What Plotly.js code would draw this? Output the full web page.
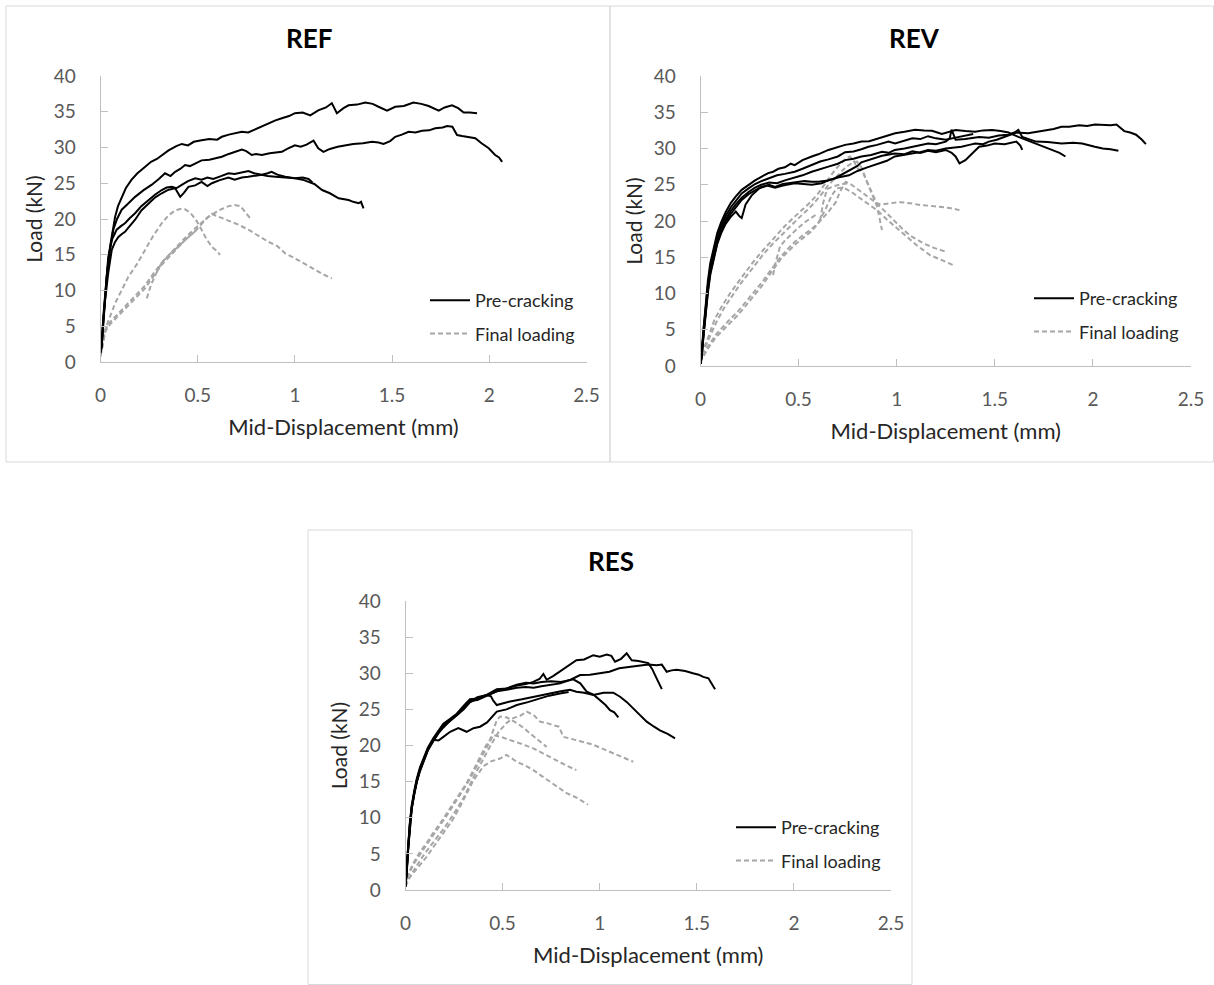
<!DOCTYPE html>
<html>
<head>
<meta charset="utf-8">
<script src="https://cdn.plot.ly/plotly-3.0.1.min.js"></script>
<style>html,body{margin:0;padding:0;background:#fff;}#chart{width:1214px;height:985px;}</style>
</head>
<body>
<div id="chart"></div>
<script>
// ---------- Panel titles, axis labels, legend labels ----------
const panelTitles = ["REF", "REV", "RES"];
const xTitle = "Mid-Displacement (mm)";
const yTitle = "Load (kN)";
const seriesNames = ["Pre-cracking", "Final loading"];

// ---------- REF : pre-cracking ----------
const refP1x = [0,0.006,0.015,0.023,0.035,0.049,0.062,0.075,0.09,0.109,0.13,0.16,0.19,0.23,0.26,0.29,0.315,0.35,0.39,0.418,0.45,0.48,0.52,0.56,0.6,0.624,0.66,0.7,0.727,0.76,0.8,0.83,0.87,0.9,0.933,0.97,1.0,1.04,1.079,1.12,1.16,1.19,1.216,1.25,1.276,1.32,1.362,1.4,1.43,1.474,1.516,1.56,1.61,1.65,1.688,1.74,1.77,1.808,1.84,1.868,1.9,1.937];
const refP1y = [1.5,2.5,6.0,9.1,12.8,16.1,18.5,20.3,21.8,23.1,24.3,25.5,26.4,27.3,28.0,28.4,28.95,29.6,30.2,30.5,30.3,30.8,31.0,31.2,31.1,31.5,31.8,32.0,32.2,32.1,32.6,32.9,33.4,33.8,34.1,34.4,34.8,34.9,34.5,35.2,35.6,36.2,34.8,35.5,35.9,36.0,36.3,36.1,35.7,35.15,35.7,35.8,36.3,36.1,35.8,35.15,35.6,35.9,35.5,34.9,34.9,34.8];
const refP2x = [0,0.006,0.015,0.032,0.05,0.066,0.085,0.109,0.14,0.178,0.22,0.264,0.3,0.332,0.36,0.384,0.41,0.435,0.46,0.487,0.52,0.56,0.6,0.624,0.66,0.7,0.727,0.75,0.778,0.8,0.83,0.87,0.933,0.96,1.0,1.03,1.06,1.096,1.12,1.147,1.18,1.22,1.26,1.3,1.35,1.397,1.43,1.456,1.49,1.516,1.55,1.585,1.62,1.654,1.69,1.722,1.76,1.783,1.81,1.834,1.86,1.9,1.928,1.96,1.997,2.03,2.05,2.066];
const refP2y = [1.5,2.2,5.5,11.9,16.0,18.5,20.0,21.3,22.1,23.1,24.0,24.8,25.6,26.4,26.0,26.6,27.0,27.55,27.4,27.8,28.2,28.3,28.5,28.7,29.1,29.4,29.7,29.5,28.95,29.1,28.95,29.2,29.4,29.8,30.3,30.1,30.4,30.95,29.9,29.4,29.8,30.1,30.35,30.5,30.6,30.8,30.7,30.5,30.9,31.5,31.8,32.2,32.1,32.35,32.4,32.7,32.8,33.0,32.9,31.75,31.6,31.4,31.3,30.6,29.9,28.95,28.6,28.0];
const refP3x = [0,0.006,0.015,0.028,0.04,0.06,0.083,0.105,0.126,0.15,0.178,0.21,0.246,0.28,0.315,0.34,0.367,0.39,0.42,0.45,0.487,0.52,0.55,0.58,0.62,0.658,0.69,0.72,0.761,0.79,0.82,0.86,0.9,0.95,1.0,1.04,1.07,1.09];
const refP3y = [1.5,2.5,6.5,11.0,14.7,17.2,18.5,19.0,19.4,20.1,20.8,21.8,22.65,23.4,24.05,24.4,24.5,24.3,24.8,25.3,25.7,25.5,25.8,25.6,26.0,26.4,26.3,26.5,26.7,26.4,26.2,26.0,25.9,25.8,25.7,25.8,25.6,25.1];
const refP4x = [0,0.006,0.012,0.023,0.04,0.058,0.075,0.092,0.11,0.126,0.15,0.178,0.21,0.246,0.28,0.315,0.35,0.384,0.41,0.43,0.452,0.487,0.52,0.55,0.573,0.61,0.658,0.69,0.727,0.76,0.79,0.83,0.86,0.88,0.91,0.95,1.0,1.04,1.07,1.1,1.14,1.18,1.225,1.25,1.276,1.3,1.328,1.34,1.353];
const refP4y = [1.2,2.0,5.0,8.5,12.5,15.7,16.8,17.5,17.9,18.2,19.0,19.9,21.2,22.2,23.0,23.6,24.1,24.3,23.1,23.7,24.5,24.7,25.2,24.6,25.0,25.4,25.8,25.5,25.8,25.9,26.0,26.2,26.4,26.6,26.2,25.9,25.7,25.5,25.2,24.9,24.05,23.6,22.9,22.8,22.65,22.4,22.2,22.4,21.5];

// ---------- REF : final loading ----------
const refF1x = [0,0.006,0.03,0.075,0.11,0.143,0.19,0.229,0.27,0.315,0.35,0.384,0.41,0.435,0.455,0.47,0.495,0.52,0.545,0.573,0.595,0.615];
const refF1y = [0.8,1.7,5.0,8.2,10.2,11.9,13.8,15.7,17.6,19.4,20.5,21.2,21.4,21.35,21.0,20.6,19.7,18.5,17.2,16.1,15.6,15.0];
const refF2x = [0,0.01,0.023,0.05,0.075,0.11,0.143,0.19,0.229,0.27,0.315,0.36,0.4,0.44,0.487,0.52,0.555,0.59,0.624,0.66,0.69,0.72,0.745,0.77];
const refF2y = [1.0,2.8,4.5,5.6,6.3,7.3,8.2,9.5,10.7,12.3,13.9,15.2,16.4,17.5,18.7,19.5,20.3,20.9,21.4,21.8,21.95,21.8,21.0,20.1];
const refF3x = [0,0.01,0.023,0.05,0.075,0.11,0.143,0.19,0.229,0.27,0.315,0.36,0.4,0.44,0.487,0.52,0.55,0.573,0.61,0.658,0.71,0.761,0.81,0.864,0.91,0.95,1.0,1.044,1.1,1.15,1.19];
const refF3y = [0.8,2.5,4.2,5.3,6.0,7.0,7.9,9.1,10.3,11.9,13.6,14.9,16.0,17.2,18.3,19.3,20.2,20.7,20.3,19.85,19.2,18.5,17.7,16.8,16.2,15.2,14.5,13.8,12.9,12.2,11.7];
const refF4x = [0.238,0.26,0.29,0.315,0.35,0.4,0.45,0.5];
const refF4y = [8.9,10.8,12.6,13.9,14.9,16.2,17.4,18.6];

// ---------- REV : pre-cracking ----------
const revP1x = [0,0.006,0.015,0.025,0.038,0.05,0.068,0.085,0.105,0.128,0.155,0.18,0.21,0.245,0.28,0.31,0.35,0.38,0.42,0.48,0.53,0.567,0.6,0.65,0.7,0.757,0.8,0.85,0.9,0.95,0.99,1.04,1.08,1.12,1.16,1.2,1.25,1.29,1.33,1.37,1.4,1.44,1.47,1.51,1.55,1.58,1.61,1.67,1.72,1.76,1.8,1.84,1.88,1.93,1.97,2.01,2.05,2.09,2.12,2.16,2.19,2.22,2.25,2.27];
const revP1y = [0.3,1.4,4.2,7.3,10.5,12.9,15.2,17.0,18.6,19.9,21.0,21.9,22.9,23.7,24.3,24.7,25.0,24.7,25.1,25.3,25.5,25.4,25.4,25.6,26.0,26.3,26.9,27.4,27.8,28.3,28.9,29.1,29.3,29.5,29.8,29.7,30.0,30.1,30.25,30.5,30.7,30.6,30.95,31.2,31.6,31.8,32.2,32.1,32.3,32.55,32.7,33.0,33.0,33.2,33.1,33.3,33.2,33.2,33.3,32.4,32.2,31.9,31.2,30.6];
const revP2x = [0,0.006,0.015,0.025,0.038,0.05,0.068,0.085,0.105,0.128,0.155,0.18,0.21,0.245,0.278,0.31,0.35,0.39,0.43,0.48,0.52,0.567,0.61,0.652,0.7,0.737,0.78,0.82,0.87,0.925,0.96,0.99,1.04,1.08,1.12,1.16,1.2,1.25,1.27,1.28,1.3,1.35,1.42,1.47,1.52,1.57,1.6,1.62,1.64,1.71,1.77,1.84,1.9,1.945,2.01,2.05,2.09,2.13];
const revP2y = [0.3,1.5,4.4,7.6,10.9,13.2,15.5,17.3,18.8,20.2,21.4,22.3,23.2,24.0,24.6,25.0,25.3,25.2,25.6,26.0,26.3,26.8,27.1,27.5,27.9,28.4,28.6,28.9,29.1,29.55,29.4,29.8,30.0,30.25,30.4,30.7,30.6,30.95,31.4,32.6,31.2,31.3,31.6,31.5,31.8,31.9,32.2,32.55,31.6,30.95,30.9,30.7,30.8,30.7,30.25,30.0,29.9,29.7];
const revP3x = [0,0.006,0.015,0.025,0.038,0.05,0.068,0.085,0.105,0.128,0.155,0.18,0.21,0.245,0.278,0.31,0.345,0.37,0.397,0.43,0.46,0.48,0.52,0.567,0.6,0.652,0.69,0.737,0.78,0.82,0.86,0.907,0.95,0.992,1.04,1.094,1.14,1.18,1.23,1.27,1.3,1.35,1.4,1.44,1.486,1.53,1.57,1.62,1.66,1.707,1.75,1.79,1.83,1.86];
const revP3y = [0.3,1.8,5.0,8.5,11.8,14.2,16.5,18.3,19.8,21.2,22.5,23.4,24.3,25.0,25.6,26.1,26.6,26.8,27.2,27.4,27.9,27.7,28.4,28.9,29.2,29.8,30.1,30.5,30.7,30.95,31.0,31.4,31.8,32.1,32.3,32.6,32.5,32.45,32.0,32.3,32.55,32.4,32.3,32.5,32.55,32.4,32.2,31.6,31.2,30.7,30.3,29.8,29.4,28.9];
const revP4x = [0,0.006,0.015,0.025,0.038,0.05,0.068,0.085,0.105,0.128,0.155,0.18,0.2,0.21,0.23,0.26,0.3,0.34,0.38,0.42,0.48,0.53,0.567,0.618,0.65,0.686,0.72,0.757,0.8,0.82,0.87,0.925,0.99,1.04,1.08,1.12,1.16,1.2,1.25,1.28,1.3,1.32,1.35,1.38,1.42,1.46,1.5,1.55,1.61,1.63,1.64];
const revP4y = [0.3,1.3,4.0,7.0,10.2,12.6,14.9,16.8,18.3,19.6,20.6,21.3,20.6,20.4,22.3,23.5,24.5,24.9,24.6,24.9,25.2,25.1,25.0,25.2,25.6,25.9,26.4,27.0,27.6,28.1,28.5,29.0,29.3,29.2,29.6,29.4,29.7,29.5,29.8,29.4,28.9,27.95,28.4,29.2,30.25,30.4,30.7,30.6,30.95,30.4,29.8];
const revP5x = [0,0.006,0.015,0.025,0.038,0.05,0.068,0.085,0.105,0.128,0.155,0.18,0.21,0.245,0.278,0.31,0.35,0.39,0.43,0.48,0.52,0.567,0.61,0.652,0.7,0.737,0.78,0.82,0.856,0.9,0.958,0.992,1.04,1.08,1.12,1.16,1.2,1.25,1.3,1.35,1.39];
const revP5y = [0.3,1.6,4.7,8.0,11.3,13.7,16.0,17.9,19.3,20.7,21.9,22.8,23.8,24.5,25.1,25.5,25.9,26.3,26.5,26.8,27.2,27.7,28.2,28.5,28.9,29.5,29.6,29.9,30.25,30.5,30.95,30.7,31.1,31.4,31.3,31.7,31.4,31.2,31.5,31.8,32.0];

// ---------- REV : final loading ----------
const revF1x = [0,0.01,0.04,0.07,0.108,0.15,0.19,0.227,0.27,0.31,0.346,0.39,0.43,0.48,0.52,0.56,0.6,0.63,0.66,0.69,0.72,0.74,0.762,0.78,0.8,0.83,0.865,0.9,0.925];
const revF1y = [0.5,2.0,4.0,6.3,8.2,10.0,11.5,12.9,14.4,15.7,16.8,18.1,19.3,20.6,21.6,22.6,23.8,25.0,26.1,27.2,28.1,28.6,28.9,28.3,27.3,26.6,24.3,22.0,18.75];
const revF2x = [0,0.01,0.04,0.08,0.12,0.16,0.2,0.24,0.28,0.32,0.37,0.42,0.46,0.5,0.54,0.58,0.62,0.65,0.69,0.72,0.75,0.78,0.797,0.82,0.84,0.86,0.88,0.9,0.93,0.967,1.02,1.07,1.12,1.17,1.22,1.27,1.32];
const revF2y = [0.5,1.7,3.6,6.0,8.0,9.6,11.2,12.6,14.0,15.4,16.9,18.3,19.4,20.4,21.4,22.5,23.8,24.9,26.0,26.9,27.6,28.1,28.2,27.4,26.0,24.7,23.5,22.4,22.3,22.45,22.6,22.45,22.2,22.1,22.0,21.8,21.5];
const revF3x = [0,0.01,0.04,0.08,0.142,0.19,0.227,0.27,0.312,0.36,0.41,0.45,0.48,0.52,0.567,0.61,0.65,0.69,0.71,0.74,0.77,0.81,0.85,0.89,0.93,0.967,1.0,1.035,1.08,1.137,1.19,1.245];
const revF3y = [0.4,1.3,2.8,4.4,6.2,7.5,8.7,10.1,11.5,13.3,15.1,16.3,17.1,18.0,18.9,20.0,21.2,22.6,24.0,25.4,25.0,24.2,23.4,22.6,21.6,20.6,19.7,18.75,17.8,16.9,16.3,15.8];
const revF4x = [0,0.01,0.04,0.08,0.142,0.19,0.227,0.27,0.312,0.36,0.41,0.45,0.48,0.52,0.567,0.6,0.64,0.67,0.695,0.73,0.77,0.81,0.85,0.9,0.95,1.0,1.05,1.1,1.17,1.23,1.29];
const revF4y = [0.4,1.1,2.5,4.0,5.7,7.0,8.2,9.6,11.0,12.9,14.8,15.9,16.7,17.6,18.6,19.7,21.8,23.6,24.5,24.6,24.0,23.2,22.4,21.5,20.2,19.0,17.8,16.7,15.3,14.6,13.9];
const revF5x = [0.37,0.385,0.405,0.43,0.48,0.53,0.59];
const revF5y = [12.55,14.5,16.45,17.3,18.6,19.8,20.9];
const revF6x = [0.61,0.625,0.645,0.68,0.72,0.76];
const revF6y = [20.1,22.5,24.4,24.8,25.1,25.2];

// ---------- RES : pre-cracking ----------
const resP1x = [0,0.006,0.014,0.022,0.032,0.045,0.058,0.075,0.092,0.115,0.143,0.17,0.195,0.23,0.264,0.3,0.332,0.37,0.418,0.47,0.52,0.573,0.62,0.658,0.69,0.71,0.727,0.76,0.8,0.83,0.88,0.92,0.967,1.0,1.036,1.06,1.079,1.11,1.139,1.165,1.2,1.25,1.27,1.285,1.3,1.32];
const resP1y = [0.5,2.5,6.2,9.2,11.7,13.7,15.4,17.0,18.2,19.7,21.0,22.1,23.0,23.7,24.4,25.5,26.4,26.5,27.0,27.8,27.9,28.3,28.5,28.8,29.2,29.9,29.1,29.6,30.3,30.9,31.8,31.9,32.5,32.3,32.6,32.4,31.6,32.0,32.75,31.8,31.7,31.4,30.6,29.75,28.9,27.8];
const resP2x = [0,0.006,0.014,0.022,0.032,0.045,0.058,0.075,0.092,0.115,0.143,0.17,0.195,0.23,0.264,0.3,0.332,0.37,0.418,0.47,0.52,0.573,0.62,0.66,0.7,0.74,0.796,0.85,0.899,0.95,1.0,1.05,1.1,1.15,1.21,1.25,1.293,1.32,1.345,1.37,1.397,1.44,1.48,1.51,1.533,1.56,1.594];
const resP2y = [0.5,2.3,5.8,8.8,11.3,13.3,15.0,16.6,17.9,19.4,20.7,21.8,22.6,23.4,24.1,25.0,26.0,26.4,27.0,27.5,27.7,28.0,28.1,28.0,28.2,28.4,28.6,29.1,29.75,29.8,30.0,30.2,30.7,30.9,31.1,31.2,31.1,31.2,30.2,30.4,30.5,30.3,30.0,29.8,29.5,29.3,27.8];
const resP3x = [0,0.006,0.014,0.022,0.032,0.045,0.058,0.075,0.092,0.115,0.143,0.17,0.195,0.23,0.264,0.3,0.332,0.37,0.418,0.45,0.47,0.52,0.573,0.62,0.66,0.7,0.75,0.8,0.83,0.864,0.9,0.933,0.97,1.0,1.03,1.053,1.075,1.096];
const resP3y = [0.5,2.4,6.0,9.0,11.5,13.5,15.2,16.8,18.0,19.5,20.8,21.9,22.8,23.6,24.3,25.3,26.2,26.3,26.9,27.2,27.5,27.9,28.4,28.7,28.6,28.8,28.9,28.8,29.0,29.15,28.6,27.45,27.0,26.3,25.6,24.9,24.6,23.9];
const resP4x = [0,0.006,0.014,0.022,0.032,0.045,0.058,0.075,0.092,0.115,0.143,0.17,0.195,0.23,0.264,0.3,0.332,0.37,0.418,0.44,0.452,0.47,0.5,0.538,0.6,0.658,0.7,0.744,0.8,0.847,0.88,0.92,0.967,1.02,1.07,1.105,1.14,1.173,1.21,1.242,1.28,1.31,1.35,1.388];
const resP4y = [0.5,2.2,5.7,8.7,11.2,13.2,14.9,16.5,17.8,19.3,20.6,21.7,22.5,23.5,24.2,25.1,26.0,26.7,27.0,26.8,26.2,25.6,25.8,26.1,26.4,26.75,26.9,27.2,27.5,27.7,27.45,27.3,27.0,27.3,27.3,26.75,26.0,25.1,24.2,23.3,22.6,22.1,21.6,21.0];
const resP5x = [0,0.006,0.014,0.022,0.032,0.045,0.058,0.075,0.092,0.115,0.143,0.17,0.195,0.23,0.272,0.3,0.315,0.35,0.384,0.42,0.47,0.52,0.573,0.63,0.693,0.74,0.795,0.84];
const resP5y = [0.5,2.3,5.9,8.9,11.4,13.4,15.1,16.7,17.9,19.5,20.8,20.7,21.2,21.9,22.4,22.0,21.9,22.4,22.6,23.2,24.7,25.0,25.6,26.0,26.5,26.9,27.2,27.4];

// ---------- RES : final loading ----------
const resF1x = [0,0.01,0.04,0.08,0.12,0.16,0.2,0.25,0.3,0.35,0.4,0.44,0.48,0.52,0.555,0.59,0.624,0.66,0.693,0.73,0.761,0.79,0.813,0.847,0.9,0.967,1.02,1.07,1.12,1.173];
const resF1y = [0.5,1.3,2.6,4.3,5.8,7.2,8.6,10.6,12.8,15.6,18.2,20.1,21.9,23.1,23.8,24.1,24.7,24.2,23.3,23.1,22.8,22.6,21.2,21.0,20.6,20.1,19.5,18.9,18.3,17.75];
const resF2x = [0,0.01,0.04,0.075,0.109,0.14,0.178,0.21,0.246,0.28,0.315,0.35,0.384,0.41,0.435,0.455,0.47,0.487,0.52,0.573,0.61,0.64,0.68,0.727];
const resF2y = [0.6,2.0,3.7,5.3,6.5,7.8,9.2,10.5,12.0,13.4,14.8,16.6,18.45,19.8,20.8,22.3,23.5,24.0,23.9,23.1,22.4,21.7,20.8,19.8];
const resF3x = [0,0.01,0.04,0.075,0.109,0.14,0.178,0.21,0.246,0.28,0.315,0.35,0.384,0.42,0.452,0.49,0.538,0.6,0.658,0.7,0.744,0.79,0.838,0.88];
const resF3y = [0.6,1.8,3.5,5.0,6.3,7.5,8.9,10.2,11.7,13.1,14.6,16.3,18.0,20.0,21.45,21.2,20.8,20.2,19.6,19.0,18.45,17.8,17.1,16.6];
const resF4x = [0,0.023,0.06,0.109,0.15,0.195,0.24,0.28,0.32,0.35,0.38,0.4,0.44,0.487,0.52,0.55,0.573,0.62,0.658,0.7,0.744,0.79,0.83,0.88,0.94];
const resF4y = [0.5,1.8,3.0,4.6,6.2,7.85,9.6,11.5,13.5,15.2,16.3,17.1,17.8,18.2,18.7,18.2,17.75,17.2,16.6,15.8,15.0,14.2,13.4,12.8,11.8];

// ---------- Axis tick values ----------
const xTicks = [0, 0.5, 1, 1.5, 2, 2.5];
const yTicks = [0, 5, 10, 15, 20, 25, 30, 35, 40];

// ---------- Build traces ----------
const FONT = 'Lato, "Liberation Sans", sans-serif';
const panels = [
  {ax: ['x', 'y'], legend: 'legend',
   pre: [[refP1x, refP1y], [refP2x, refP2y], [refP3x, refP3y], [refP4x, refP4y]],
   fin: [[refF1x, refF1y], [refF2x, refF2y], [refF3x, refF3y], [refF4x, refF4y]]},
  {ax: ['x2', 'y2'], legend: 'legend2',
   pre: [[revP1x, revP1y], [revP2x, revP2y], [revP3x, revP3y], [revP4x, revP4y], [revP5x, revP5y]],
   fin: [[revF1x, revF1y], [revF2x, revF2y], [revF3x, revF3y], [revF4x, revF4y], [revF5x, revF5y], [revF6x, revF6y]]},
  {ax: ['x3', 'y3'], legend: 'legend3',
   pre: [[resP1x, resP1y], [resP2x, resP2y], [resP3x, resP3y], [resP4x, resP4y], [resP5x, resP5y]],
   fin: [[resF1x, resF1y], [resF2x, resF2y], [resF3x, resF3y], [resF4x, resF4y]]}
];

const traces = [];
panels.forEach(function (p) {
  p.fin.forEach(function (s, i) {
    traces.push({type: 'scatter', mode: 'lines', x: s[0], y: s[1], xaxis: p.ax[0], yaxis: p.ax[1],
      name: seriesNames[1], legendgroup: p.legend + 'fin', legend: p.legend, showlegend: i === 0,
      legendrank: 2, line: {color: '#a6a6a6', width: 2, dash: '5px,3px'}, hoverinfo: 'skip'});
  });
  p.pre.forEach(function (s, i) {
    traces.push({type: 'scatter', mode: 'lines', x: s[0], y: s[1], xaxis: p.ax[0], yaxis: p.ax[1],
      name: seriesNames[0], legendgroup: p.legend + 'pre', legend: p.legend, showlegend: i === 0,
      legendrank: 1, line: {color: '#000000', width: 2}, hoverinfo: 'skip'});
  });
});

// ---------- Layout ----------
const W = 1214, H = 985;
const px = v => v / W;
const py = v => 1 - v / H;

function xAxis(l, r, anchor) {
  return {domain: [px(l), px(r)], anchor: anchor, range: [0, 2.5], tickvals: xTicks,
    ticks: 'inside', ticklen: 7, tickwidth: 1, tickcolor: '#bfbfbf',
    showline: true, linecolor: '#bfbfbf', linewidth: 1, showgrid: false, zeroline: false, fixedrange: true,
    tickfont: {family: FONT, size: 19, color: '#595959'}, ticklabelstandoff: 16,
    title: {text: xTitle, font: {family: FONT, size: 22, color: '#262626'}, standoff: 14}};
}
function yAxis(b, t, anchor) {
  return {domain: [py(b), py(t)], anchor: anchor, range: [0, 40], tickvals: yTicks,
    ticks: 'inside', ticklen: 7, tickwidth: 1, tickcolor: '#bfbfbf',
    showline: true, linecolor: '#bfbfbf', linewidth: 1, showgrid: false, zeroline: false, fixedrange: true,
    tickfont: {family: FONT, size: 19, color: '#595959'}, ticklabelstandoff: 20,
    title: {text: yTitle, font: {family: FONT, size: 21, color: '#262626'}, standoff: 5}};
}
function legendAt(x, y) {
  return {x: px(x), y: py(y), xanchor: 'left', yanchor: 'top', bgcolor: 'rgba(0,0,0,0)',
    borderwidth: 0, font: {family: FONT, size: 18, color: '#262626'},
    traceorder: 'grouped', tracegroupgap: 7, itemwidth: 40};
}
function frame(x0, y0, x1, y1, color) {
  return {type: 'rect', xref: 'paper', yref: 'paper', x0: px(x0), x1: px(x1), y0: py(y1), y1: py(y0),
    line: {color: color, width: 1}, fillcolor: 'rgba(0,0,0,0)', layer: 'below'};
}
function panelTitle(text, x, y) {
  return {text: text, xref: 'paper', yref: 'paper', x: px(x), y: py(y), xanchor: 'center', yanchor: 'middle',
    showarrow: false, font: {family: FONT, size: 26, color: '#000000', weight: 'bold'}};
}

const layout = {
  width: W, height: H, margin: {l: 0, r: 0, t: 0, b: 0},
  paper_bgcolor: '#ffffff', plot_bgcolor: 'rgba(0,0,0,0)',
  font: {family: FONT}, hovermode: false, showlegend: true,
  xaxis: xAxis(100.5, 586.5, 'y'), yaxis: yAxis(362, 76, 'x'),
  xaxis2: xAxis(700.5, 1191, 'y2'), yaxis2: yAxis(366, 76, 'x2'),
  xaxis3: xAxis(405.5, 891, 'y3'), yaxis3: yAxis(890, 601, 'x3'),
  legend: legendAt(425, 282), legend2: legendAt(1029, 280), legend3: legendAt(731, 809),
  shapes: [frame(6, 6, 610, 462, '#d9d9d9'), frame(610, 6, 1213.5, 462, '#d9d9d9'),
           frame(308, 530, 912, 984.5, '#d9d9d9')],
  annotations: [panelTitle(panelTitles[0], 309, 38), panelTitle(panelTitles[1], 914, 38),
                panelTitle(panelTitles[2], 611, 561)]
};

Plotly.newPlot('chart', traces, layout, {staticPlot: true, displayModeBar: false});
</script>
</body>
</html>
